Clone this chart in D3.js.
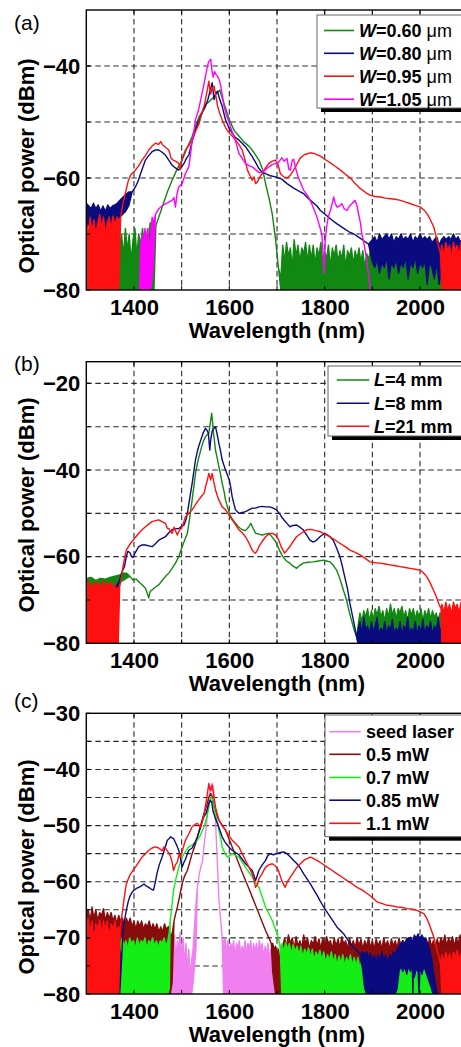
<!DOCTYPE html>
<html><head><meta charset="utf-8">
<script src="https://cdn.jsdelivr.net/npm/d3@7"></script>
<style>
html,body{margin:0;padding:0;background:#fff;}
svg{display:block;font-family:"Liberation Sans",Arial,Helvetica,sans-serif;}
</style></head><body>
<svg id="chart" width="461" height="1047"></svg>
<script>
// ---------- shared axis values ----------
const xDomain = [1300, 2100];
const xTickLabels = [1400, 1600, 1800, 2000];
const xGridValues = [1400, 1500, 1600, 1700, 1800, 1900, 2000];
const xTitle = "Wavelength (nm)";
const yTitle = "Optical power (dBm)";

// ---------- panel (a) ----------
const yDomainA = [-80, -30];
const yTicksA = [-40, -60, -80];
const yGridA = [-70, -60, -50, -40];
const legendA = ["=0.60 ", "=0.80 ", "=0.95 ", "=1.05 "];
// points: [wavelength, dBm] or [wavelength, low dBm, high dBm] for noisy bands
const greenA = [[1368,-80,-80],[1370,-80,-72],[1374,-80,-70],[1378,-80,-74],[1382,-80,-69],[1386,-80,-73],[1390,-80,-70],[1394,-80,-75],[1398,-80,-71],[1402,-80,-69],[1406,-80,-74],[1410,-80,-70],[1414,-80,-72],[1418,-80,-69],[1422,-80,-73],[1426,-80,-70],[1430,-80,-71],[1434,-80,-68],[1438,-80,-70],[1442,-80,-69],
[1446,-68.5],[1452,-67],[1460,-65],[1470,-62.5],[1480,-60.4],[1490,-58.5],[1501,-56.8],[1512,-54.5],[1522,-52.6],[1530,-50.5],[1537,-49],[1544,-48],[1550,-46.8],[1556,-46.5],[1562,-46],[1568,-45.5],[1574,-44.8],[1580,-44.3],[1586,-46],[1592,-47.5],[1600,-49.6],[1610,-51.5],[1621,-52.6],[1630,-53.5],[1642,-54.4],[1652,-55.5],[1662,-56.8],[1670,-58.5],[1676,-61],[1683,-63.5],[1690,-66.4],[1697,-71],[1703,-76],
[1708,-80,-78],[1712,-80,-72],[1716,-80,-75],[1720,-80,-71.5],[1724,-80,-74],[1728,-80,-72.5],[1732,-80,-76],[1736,-80,-71],[1740,-80,-74],[1744,-80,-72],[1748,-80,-75],[1752,-80,-72.5],[1756,-80,-73.5],[1760,-80,-71.5],[1764,-80,-75],[1768,-80,-72],[1772,-80,-74.5],[1776,-80,-72],[1780,-80,-75.5],[1784,-80,-72.5],[1788,-80,-74],[1792,-80,-71.5],[1796,-80,-75],[1800,-80,-73],[1804,-80,-74.5],[1808,-80,-72],[1812,-80,-76],[1816,-80,-72.5],[1820,-80,-74],[1824,-80,-72],[1828,-80,-75],[1832,-80,-73],[1836,-80,-74.5],[1840,-80,-72],[1844,-80,-76],[1848,-80,-73],[1852,-80,-74],[1856,-80,-72.5],[1860,-80,-75.5],[1864,-80,-73],[1868,-80,-74.5],[1872,-80,-72.5],[1876,-80,-75],[1880,-80,-73],[1884,-80,-76],[1888,-80,-73.5],[1892,-80,-74.5],[1896,-80,-73],[1900,-80,-75.5],[1904,-80,-73],[1908,-80,-74],[1912,-80,-72.5],[1916,-80,-76],[1920,-80,-73.5],[1924,-80,-75],[1928,-80,-73],[1932,-80,-74.5],[1936,-80,-72.5],[1940,-80,-76],[1944,-80,-73.5],[1948,-80,-75],[1952,-80,-73],[1956,-80,-74.5],[1960,-80,-73],[1964,-80,-76],[1968,-80,-73.5],[1972,-80,-75],[1976,-80,-73],[1980,-80,-74.5],[1984,-80,-72.5],[1988,-80,-76],[1992,-80,-73.5],[1996,-80,-75],[2000,-80,-73],[2004,-80,-74.5],[2008,-80,-73],[2012,-80,-75.5],[2016,-80,-73.5],[2020,-80,-75],[2024,-80,-73],[2028,-80,-74.5],[2032,-80,-73],[2036,-80,-75],[2040,-80,-73.5],[2044,-80,-75],[2048,-80,-74]];
const navyA = [[1300,-69,-64.5],[1305,-68,-65],[1310,-70,-65.5],[1315,-68,-64.5],[1320,-69.5,-65.5],[1325,-68,-64.8],[1330,-70,-66],[1335,-68.5,-65],[1340,-69,-66],[1345,-68,-64.8],[1350,-69.5,-65.5],[1355,-68,-65],[1360,-69,-64.8],[1365,-67.5,-64.5],[1370,-67,-64],[1376,-66.5,-63.5],[1382,-66,-63],[1389,-65,-62.5],
[1396,-62.5],[1403,-61.6],[1409,-60.5],[1414,-59.2],[1419,-58],[1424,-56.8],[1431,-56],[1438,-55.3],[1445,-55],[1452,-55],[1459,-55.4],[1466,-55.9],[1473,-56.8],[1480,-57.7],[1487,-58.2],[1494,-58.6],[1500,-58],[1505,-57.4],[1510,-56.5],[1515,-55.9],[1522,-53.5],[1529,-51.4],[1535,-50],[1540,-49],[1545,-48],[1550,-47.2],[1555,-46],[1558,-45],[1561,-44],[1564,-43],[1566,-44.5],[1568,-46],[1571,-45],[1575,-44.5],[1580,-46],[1585,-47.2],[1592,-49.6],[1599,-51],[1606,-52],[1613,-52.8],[1620,-53.2],[1627,-53.8],[1634,-54.4],[1641,-55.3],[1648,-56.2],[1655,-57.2],[1662,-58.3],[1669,-59],[1676,-59.2],[1686,-59.6],[1697,-59.8],[1710,-60.2],[1721,-61],[1735,-61.8],[1749,-62.5],[1756,-62.8],[1770,-64],[1784,-65],[1791,-65.8],[1805,-66.8],[1815,-67.5],[1826,-68.2],[1840,-69],[1851,-69.6],[1861,-70],[1872,-70.6],[1882,-71.2],[1892,-71.8],
[1900,-75,-71],[1905,-76,-70.5],[1910,-74.5,-71.5],[1915,-77,-70],[1920,-75,-71],[1925,-76,-70.5],[1930,-74,-70],[1935,-78,-71],[1940,-75,-70],[1945,-76,-71.5],[1950,-74.5,-70.5],[1955,-77,-71],[1960,-75,-70],[1965,-76,-71],[1970,-74,-70.5],[1975,-78,-71],[1980,-75,-70],[1985,-76,-71.5],[1990,-74,-70.5],[1995,-77,-71],[2000,-75,-70],[2005,-76,-71],[2010,-74.5,-70.5],[2015,-79,-71],[2020,-75,-70.5],[2025,-76,-71.5],[2030,-78,-71],[2035,-75,-70.5],[2040,-79,-72],[2045,-76,-71],[2050,-75,-70.5],[2055,-74,-71],[2060,-75,-70.5],[2065,-74.5,-71],[2070,-75,-70],[2075,-74,-71],[2080,-75,-70.5],[2085,-74.5,-71.5],[2090,-75,-70.5],[2095,-74,-71],[2100,-75,-71]];
const redA = [[1300,-80,-68],[1304,-80,-70],[1308,-80,-67],[1312,-80,-69.5],[1316,-80,-67.5],[1320,-80,-70],[1324,-80,-68],[1328,-80,-66.5],[1332,-80,-69],[1336,-80,-67],[1340,-80,-70],[1344,-80,-68],[1348,-80,-67],[1352,-80,-69],[1356,-80,-66.8],[1360,-80,-68.5],[1364,-80,-67],[1368,-80,-67.5],
[1372,-67],[1377,-64.5],[1382,-62.7],[1388,-60.5],[1393,-59.5],[1398,-59],[1403,-58.6],[1410,-57.8],[1417,-56.8],[1424,-56],[1431,-55],[1438,-54.3],[1445,-53.8],[1452,-54],[1456,-53.5],[1460,-54.1],[1466,-54.5],[1473,-55],[1478,-56.5],[1482,-56.8],[1487,-57],[1494,-57.4],[1497,-58.5],[1501,-56.5],[1508,-55],[1515,-54.2],[1522,-53.2],[1530,-51.5],[1537,-50.2],[1542,-48.5],[1547,-47.2],[1551,-45.5],[1554,-44.2],[1557,-42.7],[1559,-44],[1561,-45],[1564,-43.8],[1568,-43.6],[1571,-45],[1575,-47],[1580,-48.5],[1585,-49.6],[1592,-51],[1600,-52],[1606,-52.5],[1613,-53.2],[1620,-54],[1627,-55],[1632,-56.5],[1638,-58.6],[1643,-59.5],[1648,-60.4],[1652,-59.8],[1655,-61],[1659,-60.7],[1664,-59.8],[1669,-59.2],[1676,-58.2],[1683,-57.4],[1690,-57],[1697,-56.8],[1702,-57.5],[1707,-59.2],[1714,-59.8],[1721,-60],[1728,-59.5],[1735,-58.6],[1742,-57.5],[1749,-56.4],[1758,-55.8],[1770,-55.5],[1780,-55.7],[1791,-56.1],[1801,-56.7],[1812,-57.3],[1822,-57.9],[1833,-58.6],[1843,-59.3],[1854,-60],[1864,-61],[1875,-61.9],[1886,-62.6],[1896,-63.1],[1906,-63.3],[1917,-63.4],[1927,-63.6],[1938,-63.7],[1948,-63.8],[1959,-64],[1970,-64.3],[1980,-64.6],[1990,-64.9],[2001,-65.2],[2008,-65.7],[2015,-66.4],[2022,-67.5],[2029,-68.8],[2036,-71.2],[2043,-73.6],
[2046,-80,-72],[2050,-80,-74],[2054,-80,-71.5],[2058,-80,-73],[2062,-80,-72],[2066,-80,-74.5],[2070,-80,-71.5],[2074,-80,-73],[2078,-80,-72],[2082,-80,-74],[2086,-80,-71.5],[2090,-80,-73],[2094,-80,-72],[2098,-80,-73.5],[2100,-80,-72]];
const magentaA = [[1412,-80,-80],[1414,-80,-72],[1417,-80,-70],[1420,-80,-73],[1423,-80,-69],[1426,-80,-71],[1429,-80,-69],[1432,-80,-74],[1435,-80,-70],[1438,-78,-67],[1441,-75,-68],
[1445,-66.5],[1452,-65.5],[1459,-65],[1466,-64.6],[1473,-64.3],[1480,-64],[1484,-63.5],[1487,-65.2],[1490,-63],[1494,-61.6],[1501,-61],[1505,-60],[1508,-59.2],[1512,-58.5],[1515,-58],[1519,-55.5],[1522,-53.2],[1526,-51.5],[1529,-49.6],[1535,-48],[1540,-46],[1545,-44],[1550,-41.8],[1553,-40.5],[1556,-39.4],[1559,-39],[1561,-38.8],[1563,-40.5],[1566,-42],[1569,-41],[1572,-41.5],[1575,-41.8],[1579,-42.5],[1582,-43.6],[1586,-45.5],[1589,-47.2],[1594,-48.8],[1600,-50.2],[1605,-51.5],[1610,-52.6],[1615,-54],[1620,-55.6],[1627,-56.5],[1634,-57.4],[1641,-57.8],[1648,-58],[1655,-58.5],[1662,-59],[1669,-59],[1676,-58.5],[1683,-58],[1690,-57.6],[1697,-57.4],[1703,-57.2],[1710,-56.4],[1715,-57],[1721,-56.5],[1725,-58.5],[1728,-58.6],[1732,-56.8],[1735,-56.7],[1740,-58.5],[1745,-60],[1750,-61],[1756,-62.2],[1763,-63],[1770,-64],[1777,-65.5],[1784,-67],[1789,-68.5],[1794,-70],[1797,-74],[1799,-77],[1801,-71.2],[1805,-68.2],[1809,-66.5],[1812,-65.8],[1816,-64.5],[1819,-63.4],[1822,-64.5],[1826,-65.2],[1831,-65],[1836,-64.6],[1841,-65.5],[1847,-65.8],[1852,-65],[1857,-64.6],[1861,-64.2],[1864,-64],[1868,-65],[1871,-66.4],[1875,-68],[1878,-70],[1882,-71.5],[1885,-73],[1888,-74.5],[1890,-76],[1893,-78],[1895,-80]];

// ---------- panel (b) ----------
const yDomainB = [-80, -15];
const yTicksB = [-20, -40, -60, -80];
const yGridB = [-70, -60, -50, -40, -30, -20];
const legendB = ["=4 mm", "=8 mm", "=21 mm"];
const greenB = [[1300,-67.5,-65],[1310,-67,-64.8],[1320,-67.5,-65.5],[1330,-67,-65],[1340,-67.5,-65.2],[1350,-67,-64.8],[1360,-66.5,-64.5],[1370,-66,-64.2],[1377,-65.5,-63.8],[1384,-65,-63.8],
[1391,-64.5],[1398,-65.4],[1405,-65.2],[1410,-65.8],[1417,-66.5],[1424,-67.3],[1428,-68.5],[1431,-69.5],[1434,-68],[1438,-67.7],[1445,-67],[1452,-66.5],[1459,-65.5],[1466,-64.6],[1473,-63.8],[1480,-62.7],[1487,-61.5],[1494,-60],[1501,-57.7],[1507,-56],[1512,-54.6],[1517,-51],[1522,-46.9],[1526,-43.5],[1529,-40.8],[1534,-38],[1540,-35.4],[1545,-33.5],[1550,-32.3],[1554,-31.8],[1557,-31.5],[1559,-30],[1561,-28.5],[1563,-26.9],[1565,-29],[1566,-30.8],[1569,-33.5],[1571,-35.4],[1575,-37.5],[1578,-39.2],[1582,-41.2],[1585,-43.1],[1589,-45],[1592,-46.9],[1596,-48.5],[1600,-50],[1606,-51.3],[1613,-52.3],[1620,-53.2],[1627,-53.8],[1634,-54],[1641,-53.1],[1645,-52.3],[1650,-53.5],[1655,-54.6],[1662,-54.8],[1669,-55],[1676,-54.8],[1683,-54.6],[1690,-55.5],[1697,-56.5],[1705,-58.5],[1712,-60],[1720,-61],[1727,-61.5],[1734,-62.2],[1741,-62.7],[1748,-62],[1755,-61.5],[1765,-61.3],[1776,-61.2],[1787,-61],[1797,-60.8],[1804,-61],[1811,-61.2],[1818,-62],[1825,-63.1],[1830,-64.5],[1835,-66.2],[1840,-68],[1846,-70],[1851,-72.5],[1856,-74.6],[1862,-77],[1867,-78.5],
[1870,-80,-76],[1874,-80,-73],[1878,-80,-75],[1882,-80,-72.5],[1886,-80,-74],[1890,-80,-72],[1894,-80,-75],[1898,-80,-72.5],[1902,-80,-74.5],[1906,-80,-72],[1910,-80,-73.5],[1914,-80,-71.5],[1918,-80,-74],[1922,-80,-72.5],[1926,-80,-75],[1930,-80,-72],[1934,-80,-74],[1938,-80,-71],[1942,-80,-73.5],[1946,-80,-72],[1950,-80,-74.5],[1954,-80,-72],[1958,-80,-73],[1962,-80,-71.5],[1966,-80,-74],[1970,-80,-72.5],[1974,-80,-75],[1978,-80,-72],[1982,-80,-73.5],[1986,-80,-72],[1990,-80,-74.5],[1994,-80,-72.5],[1998,-80,-74],[2002,-80,-72],[2006,-80,-75],[2010,-80,-72.5],[2014,-80,-74],[2018,-80,-72],[2022,-80,-74.5],[2026,-80,-72.5],[2030,-80,-74],[2034,-80,-73],[2038,-80,-75],[2042,-80,-73],[2046,-80,-74.5],[2050,-80,-74]];
const navyB = [[1300,-69,-67],[1310,-70,-67.5],[1320,-69,-67],[1330,-70,-67.5],[1333,-80,-68],[1336,-70,-67],[1342,-78,-67.5],[1345,-70,-67],[1355,-69.5,-67],[1365,-68.5,-66.5],
[1370,-65.4],[1375,-63.5],[1380,-62.3],[1384,-60],[1387,-58.8],[1391,-59],[1395,-60],[1398,-60.2],[1403,-59],[1410,-57.7],[1417,-57.3],[1424,-57.3],[1431,-57.5],[1438,-57.7],[1445,-57],[1452,-56.2],[1459,-55.8],[1466,-55.4],[1473,-54.5],[1480,-53.8],[1487,-53.6],[1494,-53.5],[1500,-53],[1505,-52.7],[1509,-51.5],[1512,-50],[1517,-46.5],[1522,-43.1],[1526,-40],[1529,-37.7],[1534,-35.2],[1540,-33.1],[1545,-31.5],[1550,-30.4],[1553,-30.8],[1556,-31.5],[1559,-35.4],[1561,-33],[1564,-31],[1567,-30.5],[1571,-30],[1574,-31.5],[1578,-33.8],[1582,-35.8],[1585,-37.7],[1592,-40],[1600,-42.3],[1603,-44],[1606,-46.2],[1610,-48],[1613,-49.2],[1620,-50],[1627,-49.8],[1634,-49.6],[1641,-49.2],[1648,-48.8],[1655,-48.8],[1662,-48.5],[1669,-48.4],[1676,-48.5],[1685,-48.5],[1692,-48.8],[1699,-49.2],[1706,-50.2],[1712,-51.2],[1720,-52.2],[1727,-53.1],[1734,-52.8],[1741,-52.7],[1748,-53.2],[1755,-53.8],[1762,-55],[1769,-56.2],[1775,-56.6],[1779,-56.5],[1785,-56],[1790,-55.4],[1795,-55],[1800,-54.6],[1806,-55],[1812,-55.5],[1818,-56.2],[1825,-58],[1832,-60],[1837,-62.2],[1842,-64.6],[1848,-67.5],[1853,-70.8],[1858,-73.5],[1863,-76.2],[1867,-78.5],
[1870,-80,-77],[1874,-80,-75],[1878,-80,-78],[1882,-80,-74],[1886,-80,-77],[1890,-80,-76],[1894,-80,-78],[1898,-80,-75],[1902,-80,-77.5],[1906,-80,-76],[1910,-80,-74],[1914,-80,-78],[1918,-80,-76.5],[1922,-80,-77.5],[1926,-80,-75],[1930,-80,-78],[1934,-80,-76],[1938,-80,-77],[1942,-80,-74.5],[1946,-80,-78],[1950,-80,-76.5],[1954,-80,-77.5],[1958,-80,-75],[1962,-80,-78],[1966,-80,-76],[1970,-80,-77],[1974,-80,-74],[1978,-80,-78],[1982,-80,-76.5],[1986,-80,-77.5],[1990,-80,-75],[1994,-80,-78],[1998,-80,-76],[2002,-80,-77.5],[2006,-80,-74.5],[2010,-80,-78],[2014,-80,-76],[2018,-80,-77],[2022,-80,-75],[2026,-80,-78],[2030,-80,-76],[2034,-80,-77],[2038,-80,-74],[2042,-80,-77.5],[2046,-80,-76],[2050,-80,-77]];
const redB = [[1300,-80,-67],[1304,-80,-65.5],[1308,-80,-68],[1312,-80,-66],[1316,-80,-67.5],[1320,-80,-65.8],[1324,-80,-67],[1328,-80,-66],[1332,-80,-68],[1336,-80,-65.5],[1340,-80,-67.5],[1344,-80,-66],[1348,-80,-67],[1352,-80,-65.8],[1356,-80,-67.5],[1360,-80,-66.5],[1364,-80,-68],[1367,-80,-67],
[1370,-67],[1374,-64.5],[1377,-62.3],[1381,-60],[1384,-58.5],[1391,-57.2],[1398,-56.2],[1404,-55.4],[1410,-54.6],[1417,-53.8],[1424,-53.1],[1431,-52.5],[1438,-51.9],[1445,-51.7],[1452,-51.5],[1459,-51.9],[1466,-52.3],[1470,-53.5],[1473,-53.5],[1477,-54.2],[1480,-54.6],[1484,-53.2],[1487,-54],[1491,-55],[1494,-54.2],[1498,-53.5],[1501,-53.1],[1505,-51.8],[1508,-50.8],[1515,-50],[1522,-49.2],[1529,-48],[1536,-46.9],[1542,-46],[1547,-45.4],[1551,-43.5],[1554,-42.3],[1557,-40.8],[1559,-41.5],[1561,-42.3],[1564,-40.8],[1567,-42.5],[1571,-44.6],[1575,-46],[1578,-46.9],[1585,-48.5],[1592,-49.2],[1599,-50.3],[1606,-51.5],[1613,-52.6],[1620,-53.8],[1627,-54.5],[1634,-55.4],[1641,-56.8],[1648,-58.5],[1652,-59],[1655,-59.2],[1659,-58.5],[1662,-57.7],[1669,-56.5],[1676,-55.4],[1683,-54.8],[1690,-54.6],[1697,-55],[1703,-56],[1709,-57.8],[1716,-59.2],[1721,-58.5],[1727,-57.7],[1734,-56.5],[1741,-55.4],[1751,-54.6],[1762,-53.8],[1772,-53.7],[1781,-54],[1790,-54.2],[1800,-54.8],[1811,-55.4],[1821,-56.1],[1832,-56.9],[1843,-57.7],[1853,-58.5],[1864,-59],[1874,-59.6],[1885,-60.4],[1895,-61.2],[1906,-61.4],[1916,-61.5],[1927,-61.7],[1937,-61.9],[1948,-62.1],[1958,-62.3],[1969,-62.5],[1979,-62.7],[1990,-62.9],[2000,-63.1],[2007,-63.7],[2014,-64.6],[2021,-66],[2028,-67.7],[2034,-69.2],[2039,-70.8],[2044,-72],
[2046,-80,-71],[2050,-80,-73],[2054,-80,-70.5],[2058,-80,-72.5],[2062,-80,-71],[2066,-80,-73.5],[2070,-80,-70.5],[2074,-80,-72],[2078,-80,-71],[2082,-80,-73],[2086,-80,-70.5],[2090,-80,-72.5],[2094,-80,-71],[2098,-80,-72.5],[2100,-80,-71.5]];

// ---------- panel (c) ----------
const yDomainC = [-80, -30];
const yTicksC = [-30, -40, -50, -60, -70, -80];
const yGridC = [-75, -70, -65, -60, -55, -50, -45, -40, -35];
const legendC = ["seed laser", "0.5 mW", "0.7 mW", "0.85 mW", "1.1 mW"];
const seedC = [[1474,-80,-80],[1476,-80,-72],[1479,-80,-70],[1482,-80,-73],[1485,-80,-69.5],[1488,-80,-74],[1491,-80,-70.5],[1494,-80,-72],[1497,-80,-69],[1500,-80,-73.5],[1503,-80,-70],[1506,-80,-75],[1509,-80,-71],[1512,-80,-76],[1515,-80,-72],[1518,-80,-78],[1521,-80,-74],[1524,-78,-72],[1527,-75,-68],[1530,-72,-64],
[1533,-61],[1537,-58.6],[1540,-57.5],[1544,-56.2],[1547,-53.5],[1551,-50.8],[1554,-48],[1556,-45.5],[1559,-44],[1561,-43.1],[1564,-42.5],[1566,-43],[1568,-44.5],[1571,-49],[1573,-53],[1575,-56.8],[1578,-62.7],[1580,-65],[1582,-66.9],[1585,-69.9],
[1588,-80,-71],[1591,-80,-70],[1594,-80,-72.5],[1597,-80,-70.5],[1600,-80,-73],[1603,-80,-71],[1606,-80,-72],[1609,-80,-70.5],[1612,-80,-73.5],[1615,-80,-71],[1618,-80,-72],[1621,-80,-70.5],[1624,-80,-73],[1627,-80,-71.5],[1630,-80,-72.5],[1633,-80,-70.5],[1636,-80,-73],[1639,-80,-71],[1642,-80,-72],[1645,-80,-70.5],[1648,-80,-73.5],[1651,-80,-71],[1654,-80,-72.5],[1657,-80,-71],[1660,-80,-73],[1663,-80,-70.5],[1666,-80,-72],[1669,-80,-71],[1672,-80,-73.5],[1675,-80,-71.5],[1678,-80,-73],[1681,-80,-71],[1684,-80,-74],[1687,-80,-72],[1690,-80,-75],[1693,-80,-73],[1696,-80,-76],[1699,-80,-74],[1702,-80,-77],[1705,-80,-75],[1708,-80,-78],[1711,-80,-76],[1713,-80,-80]];
const brownC = [[1300,-80,-66],[1304,-80,-65],[1308,-80,-67],[1312,-80,-64.5],[1316,-80,-66.5],[1320,-80,-65],[1324,-80,-67],[1328,-80,-65.5],[1332,-80,-66],[1336,-80,-64.8],[1340,-80,-67],[1344,-80,-65.5],[1348,-80,-66.5],[1352,-80,-65.5],[1356,-80,-67],[1360,-80,-66],[1364,-80,-67.5],[1368,-80,-66],[1372,-80,-67],[1376,-80,-66.5],[1380,-80,-68],[1384,-80,-66.5],[1388,-80,-67.5],[1392,-80,-66.5],[1396,-80,-68],[1400,-80,-67],[1404,-80,-68.5],[1408,-80,-67],[1412,-80,-68],[1416,-80,-67],[1420,-80,-68.5],[1424,-80,-67.5],[1428,-80,-68],[1432,-80,-67],[1436,-80,-68.5],[1440,-80,-67.5],[1444,-80,-68.5],[1448,-80,-67.5],[1452,-80,-69],[1456,-80,-68],[1460,-80,-69],[1464,-80,-67.5],[1468,-80,-68.5],[1472,-80,-68],[1476,-80,-69.5],[1480,-78,-69.3],
[1484,-67],[1488,-65.5],[1491,-64.5],[1496,-62.5],[1501,-60.4],[1506,-59],[1512,-58],[1517,-56.5],[1522,-55],[1530,-53],[1537,-50.8],[1542,-49.3],[1547,-47.9],[1551,-46.8],[1554,-46],[1557,-45],[1561,-44.3],[1564,-44.8],[1568,-46.7],[1573,-48],[1578,-49],[1585,-50],[1592,-50.8],[1599,-52.3],[1606,-53.8],[1613,-55.3],[1620,-56.8],[1627,-58.3],[1634,-59.8],[1641,-61.2],[1648,-62.7],[1655,-64.2],[1662,-65.7],[1669,-67.2],[1676,-68.7],[1683,-70],[1688,-71],
[1691,-76,-71],[1694,-78,-72],[1697,-80,-71.5],[1700,-80,-73],[1703,-80,-72],[1706,-80,-74],[1709,-80,-72.5],[1712,-80,-71.5],[1716,-80,-70],[1720,-80,-71.5],[1724,-80,-69.5],[1728,-80,-71],[1732,-80,-70],[1736,-80,-72],[1740,-80,-69.8],[1744,-80,-71.5],[1748,-80,-70.5],[1752,-80,-71.8],[1756,-80,-69.5],[1760,-80,-71],[1764,-80,-70],[1768,-80,-72],[1772,-80,-70.5],[1776,-80,-71.2],[1780,-80,-69.8],[1784,-80,-71.5],[1788,-80,-70.2],[1792,-80,-72],[1796,-80,-70],[1800,-80,-71.5],[1804,-80,-69.8],[1808,-80,-71],[1812,-80,-70.5],[1816,-80,-72],[1820,-80,-70],[1824,-80,-71.5],[1828,-80,-70.2],[1832,-80,-71.8],[1836,-80,-69.8],[1840,-80,-71.2],[1844,-80,-70.5],[1848,-80,-72],[1852,-80,-70],[1856,-80,-71.5],[1860,-80,-70.5],[1864,-80,-71.8],[1868,-80,-70],[1872,-80,-71.5],[1876,-80,-70.2],[1880,-80,-72],[1884,-80,-70.5],[1888,-80,-71.5],[1892,-80,-70],[1896,-80,-71.8],[1900,-80,-70.5],[1904,-80,-72],[1908,-80,-70.2],[1912,-80,-71.5],[1916,-80,-70.5],[1920,-80,-72],[1924,-80,-70],[1928,-80,-71.5],[1932,-80,-70.5],[1936,-80,-72],[1940,-80,-70.2],[1944,-80,-71.5],[1948,-80,-70.5],[1952,-80,-71.8],[1956,-80,-70],[1960,-80,-71.5],[1964,-80,-70.5],[1968,-80,-72],[1972,-80,-70.2],[1976,-80,-71.5],[1980,-80,-70.5],[1984,-80,-71.8],[1988,-80,-70],[1992,-80,-71.5],[1996,-80,-70.5],[2000,-80,-72],[2004,-80,-70.2],[2008,-80,-71.5],[2012,-80,-70.5],[2016,-80,-71.8],[2020,-80,-70],[2024,-80,-71.5],[2028,-80,-70.5],[2032,-80,-72],[2036,-80,-70.2],[2040,-80,-71.5],[2044,-80,-70],[2048,-80,-71],[2052,-80,-69.5],[2056,-80,-71.5],[2060,-80,-70],[2064,-80,-71],[2068,-80,-69.8],[2072,-80,-71.5],[2076,-80,-70],[2080,-80,-71],[2084,-80,-69.5],[2088,-80,-71.5],[2092,-80,-70],[2096,-80,-71],[2100,-80,-70]];
const greenC = [[1368,-80,-80],[1371,-80,-71],[1375,-80,-70],[1379,-80,-71.5],[1383,-80,-70.5],[1387,-80,-72],[1391,-80,-70],[1395,-80,-71],[1399,-80,-70.5],[1403,-80,-72],[1407,-80,-70],[1411,-80,-71.5],[1415,-80,-70.5],[1419,-80,-71],[1423,-80,-70],[1427,-80,-72],[1431,-80,-70.5],[1435,-80,-71],[1439,-80,-70],[1443,-80,-71.5],[1447,-80,-70.5],[1451,-80,-71.8],[1455,-80,-70.5],[1459,-80,-71],[1463,-80,-70],[1467,-80,-71.5],[1471,-80,-70.5],[1474,-79,-69],
[1476,-66.9],[1480,-64],[1483,-61.5],[1488,-59.5],[1494,-57.4],[1501,-55.6],[1508,-54.6],[1515,-53.8],[1522,-53.5],[1528,-53],[1533,-52.6],[1539,-51.8],[1544,-50.8],[1548,-50],[1551,-49],[1554,-48],[1557,-46.7],[1559,-45.8],[1561,-44.9],[1564,-45.2],[1567,-46.5],[1571,-47.9],[1575,-49.5],[1578,-50.8],[1582,-52.3],[1585,-53.8],[1590,-54.8],[1596,-55.6],[1601,-55.3],[1606,-55],[1613,-55.3],[1620,-55.6],[1627,-56.5],[1634,-57.4],[1641,-58.3],[1648,-59.2],[1655,-60.1],[1662,-61],[1669,-62.7],[1676,-64.5],[1683,-65.7],[1690,-66.9],[1697,-68.5],[1703,-70],[1707,-72],
[1710,-80,-71],[1714,-80,-72.5],[1718,-80,-70.8],[1722,-80,-72],[1726,-80,-71],[1730,-80,-73],[1734,-80,-71.2],[1738,-80,-72.5],[1742,-80,-71.5],[1746,-80,-73],[1750,-80,-71.5],[1754,-80,-73.5],[1758,-80,-72],[1762,-80,-73],[1766,-80,-71.8],[1770,-80,-73.5],[1774,-80,-72],[1778,-80,-74],[1782,-80,-72.5],[1786,-80,-73.5],[1790,-80,-72.2],[1794,-80,-74],[1798,-80,-72.5],[1802,-80,-74.5],[1806,-80,-73],[1810,-80,-74],[1814,-80,-72.5],[1818,-80,-74.5],[1822,-80,-73],[1826,-80,-75],[1830,-80,-73.2],[1834,-80,-74.5],[1838,-80,-73],[1842,-80,-75],[1846,-80,-73.5],[1850,-80,-74.5],[1854,-80,-73],[1858,-80,-75],[1862,-80,-73.5],[1866,-80,-75],[1870,-80,-73.5],[1874,-80,-75.5],[1878,-80,-74],[1882,-80,-75],[1886,-80,-73.5],[1890,-80,-75.5],[1894,-80,-74],[1898,-80,-75],[1902,-80,-74],[1906,-80,-76],[1910,-80,-74.5],[1914,-80,-75.5],[1918,-80,-74],[1922,-80,-76],[1926,-80,-74.5],[1930,-80,-75.5],[1934,-80,-74],[1938,-80,-75],[1942,-80,-73.5],[1946,-80,-74.5],[1950,-80,-73],[1954,-80,-74],[1958,-80,-72.8],[1962,-80,-73.5],[1966,-80,-72.5],[1970,-80,-73.5],[1974,-80,-72.8],[1978,-80,-73.2],[1982,-80,-72.5],[1986,-80,-73.5],[1990,-80,-72.8],[1994,-80,-73],[1998,-80,-72.5],[2002,-80,-73.5],[2006,-80,-73],[2010,-80,-74],[2014,-80,-75],[2018,-80,-77],[2022,-80,-79],[2024,-80,-80]];
const navyC = [[1300,-70,-68],[1310,-71,-68.5],[1320,-70,-68],[1330,-71,-68.5],[1338,-70,-68],[1340,-80,-68],[1342,-70,-68.5],[1350,-71,-68],[1360,-70,-68.5],[1366,-80,-69],[1370,-80,-72],
[1374,-74],[1377,-68.7],[1381,-66.5],[1384,-65.1],[1388,-63.5],[1391,-62.7],[1395,-62],[1400,-61.5],[1405,-61.2],[1410,-61],[1415,-60.8],[1421,-60.4],[1426,-60.8],[1431,-61],[1436,-61.3],[1441,-61.5],[1445,-60],[1448,-58.6],[1453,-57],[1459,-55.6],[1465,-54],[1470,-52.6],[1474,-52.3],[1477,-52],[1480,-52.2],[1483,-52.3],[1488,-53.2],[1494,-54.4],[1498,-56],[1501,-57.4],[1505,-56.5],[1508,-56],[1512,-55],[1515,-54.4],[1522,-54],[1528,-53],[1533,-52],[1539,-50.5],[1544,-49],[1548,-48.2],[1551,-47.9],[1554,-47],[1557,-46],[1560,-45.5],[1563,-45.8],[1566,-47.5],[1568,-48],[1571,-48.8],[1575,-49.6],[1580,-50.8],[1585,-52],[1590,-52.8],[1596,-53.5],[1601,-54],[1606,-54.4],[1613,-54.8],[1620,-55.2],[1627,-56],[1634,-56.8],[1641,-57.4],[1648,-58],[1652,-59],[1655,-59.8],[1659,-58.8],[1662,-58],[1669,-57],[1676,-56.2],[1681,-55.3],[1686,-55],[1692,-55.2],[1700,-55],[1707,-54.8],[1714,-54.7],[1721,-55],[1728,-55.6],[1735,-56.2],[1742,-56.8],[1749,-57.6],[1756,-58.6],[1763,-59.5],[1770,-60.4],[1777,-61.4],[1784,-62.4],[1791,-63.5],[1798,-64.5],[1805,-65.4],[1812,-66.3],[1819,-67.2],[1826,-68.1],[1833,-68.7],[1840,-69.3],[1847,-70.2],[1854,-71.1],[1861,-71.7],[1868,-72.3],[1875,-73],
[1880,-76,-72.5],[1884,-79,-73],[1888,-80,-72.5],[1892,-80,-73.5],[1896,-80,-72.8],[1900,-80,-74],[1904,-80,-73],[1908,-80,-74.5],[1912,-80,-73],[1916,-80,-74],[1920,-80,-72.5],[1924,-80,-74],[1928,-80,-73],[1932,-80,-74.5],[1936,-80,-73],[1940,-80,-73.5],[1944,-80,-72.5],[1948,-80,-73],[1952,-79,-72],[1956,-76,-71.5],[1960,-75,-71],[1964,-76,-70.5],[1968,-75,-71],[1972,-76.5,-70.2],[1976,-75,-70],[1980,-76,-69.9],[1984,-75,-70.5],[1985,-80,-70.5],[1986,-75,-70.5],[1988,-77,-69.5],[1992,-75.5,-70],[1996,-76,-69.3],[1998,-80,-69.8],[2000,-75,-70],[2004,-76.5,-69.5],[2008,-75,-70.2],[2012,-76,-70],[2016,-77,-71],[2020,-78,-72],[2024,-79,-73.5],[2028,-80,-76],[2032,-80,-78],[2036,-80,-80]];
const redC = [[1300,-80,-68],[1304,-80,-66.5],[1308,-80,-69],[1312,-80,-67],[1316,-80,-70],[1320,-80,-67.5],[1324,-80,-68.5],[1328,-80,-66.8],[1332,-80,-69.5],[1336,-80,-67],[1340,-80,-68.5],[1344,-80,-67],[1348,-80,-69.5],[1352,-80,-67.5],[1356,-80,-68.5],[1360,-80,-67],[1364,-80,-69],[1368,-80,-68],
[1371,-68.5],[1374,-66.5],[1377,-64.5],[1381,-62],[1384,-60.4],[1388,-59.5],[1393,-58.6],[1398,-58],[1403,-57.4],[1410,-56.5],[1417,-55.6],[1424,-55],[1431,-54.4],[1438,-54],[1445,-53.8],[1452,-54],[1459,-54.5],[1463,-53.8],[1466,-54],[1470,-54.5],[1474,-55],[1477,-55.6],[1480,-56.5],[1483,-58],[1487,-57],[1491,-56.5],[1495,-55],[1498,-55.6],[1503,-54],[1508,-52.6],[1515,-51.5],[1522,-50.2],[1528,-49.8],[1533,-49.6],[1537,-50],[1540,-50.3],[1544,-49],[1547,-47.9],[1551,-46],[1554,-44.3],[1557,-42.5],[1559,-43.5],[1561,-43.8],[1564,-42.8],[1567,-44.5],[1571,-46.7],[1575,-48],[1578,-49],[1585,-50],[1592,-50.8],[1599,-51.8],[1606,-52.6],[1613,-53.2],[1620,-53.8],[1627,-55],[1634,-56.2],[1641,-57.4],[1648,-58.6],[1652,-59.8],[1655,-61],[1659,-60.5],[1662,-59.5],[1669,-58.5],[1676,-57.4],[1683,-57],[1690,-56.8],[1697,-57.2],[1703,-58],[1710,-59.8],[1717,-61],[1722,-60],[1728,-59.2],[1735,-58.3],[1742,-57.4],[1749,-56.8],[1756,-56.2],[1763,-55.9],[1770,-55.6],[1777,-55.9],[1784,-56.2],[1795,-56.8],[1805,-57.4],[1816,-58],[1826,-58.6],[1837,-59.2],[1847,-59.8],[1858,-60.4],[1868,-61],[1879,-61.5],[1889,-62.1],[1900,-62.8],[1910,-63.6],[1921,-63.9],[1931,-64.2],[1942,-64.3],[1952,-64.5],[1963,-64.6],[1973,-64.8],[1984,-64.9],[1994,-65.1],[2001,-65.4],[2008,-65.7],[2014,-66.5],[2019,-67.5],[2024,-68.7],[2029,-69.9],[2033,-71.2],[2036,-72.3],[2040,-73.5],[2043,-74.6],
[2046,-80,-73],[2050,-80,-74.5],[2054,-80,-72.5],[2058,-80,-74],[2062,-80,-72.8],[2066,-80,-74.5],[2070,-80,-72.5],[2074,-80,-73.5],[2078,-80,-72.2],[2082,-80,-74],[2086,-80,-72.8],[2090,-80,-74.5],[2094,-80,-72.5],[2098,-80,-73.5],[2100,-80,-73]];

// ---------- drawing ----------
const svg = d3.select("#chart");
const defs = svg.append("defs");
const X0 = 86.3, X1 = 467.7;
const x = d3.scaleLinear().domain(xDomain).range([X0, X1]);
const FONT = '"Liberation Sans", Arial, Helvetica, sans-serif';

const panels = [
  {name:"a", label:"(a)", top:10, bottom:290, yDomain:yDomainA, yTicks:yTicksA, yGrid:yGridA, titleY:166, labelY:29.5,
   series:[{d:greenA,c:"#118811"},{d:navyA,c:"#0b0b80"},{d:redA,c:"#ff1010"},{d:magentaA,c:"#ff00ff"}],
   legend:{x:317, y:15, w:160, h:93, rows:[30.5,53.3,76.2,99.2], lx0:324, lx1:354, tx:359,
     items:legendA.map((t,i)=>({pre:"W", text:t, unit:"\u03bcm", c:["#118811","#0b0b80","#ff1010","#ff00ff"][i]}))}},
  {name:"b", label:"(b)", top:361.7, bottom:643.3, yDomain:yDomainB, yTicks:yTicksB, yGrid:yGridB, titleY:505, labelY:371,
   series:[{d:greenB,c:"#118811"},{d:navyB,c:"#0b0b80"},{d:redB,c:"#ff1010"}],
   legend:{x:328, y:366, w:150, h:70, rows:[380,403.3,426.3], lx0:336.7, lx1:369.3, tx:374,
     items:legendB.map((t,i)=>({pre:"L", text:t, unit:"", c:["#118811","#0b0b80","#ff1010"][i]}))}},
  {name:"c", label:"(c)", top:713.3, bottom:994, yDomain:yDomainC, yTicks:yTicksC, yGrid:yGridC, titleY:867, labelY:708,
   series:[{d:seedC,c:"#f07ff0"},{d:brownC,c:"#880c0c"},{d:greenC,c:"#14ee14"},{d:navyC,c:"#0b0b80"},{d:redC,c:"#ff1010"}],
   legend:{x:325, y:715, w:150, h:121.7, rows:[731.7,754.3,777.5,800.2,823.3], lx0:329.3, lx1:360.7, tx:366,
     items:legendC.map((t,i)=>({pre:"", text:t, unit:"", c:["#f07ff0","#880c0c","#14ee14","#0b0b80","#ff1010"][i]}))}}
];

panels.forEach(p => {
  const y = d3.scaleLinear().domain(p.yDomain).range([p.bottom, p.top]);
  const g = svg.append("g");
  const clipId = "clip-" + p.name;
  defs.append("clipPath").attr("id", clipId).append("rect")
    .attr("x", X0).attr("y", p.top).attr("width", X1 - X0).attr("height", p.bottom - p.top);

  // grid
  const grid = g.append("g").attr("stroke", "#2a2a2a").attr("stroke-width", 1.1).attr("stroke-dasharray", "5.5,3.5");
  grid.selectAll("line.vx").data(xGridValues).join("line")
    .attr("x1", d => x(d)).attr("x2", d => x(d)).attr("y1", p.top).attr("y2", p.bottom);
  grid.selectAll("line.hy").data(p.yGrid).join("line")
    .attr("x1", X0).attr("x2", X1).attr("y1", d => y(d)).attr("y2", d => y(d));

  // series
  const area = d3.area()
    .x(d => x(d[0]))
    .y0(d => y(d[1]))
    .y1(d => y(d.length > 2 ? d[2] : d[1]));
  const sg = g.append("g").attr("clip-path", `url(#${clipId})`);
  p.series.forEach(s => {
    sg.append("path").datum(s.d).attr("d", area)
      .attr("fill", s.c).attr("stroke", s.c).attr("stroke-width", 1.4)
      .attr("stroke-linejoin", "round");
  });

  // frame
  g.append("rect").attr("x", X0).attr("y", p.top).attr("width", X1 - X0).attr("height", p.bottom - p.top)
    .attr("fill", "none").attr("stroke", "#000").attr("stroke-width", 1.4);

  // axes
  const ya = g.append("g").attr("transform", `translate(${X0},0)`)
    .call(d3.axisLeft(y).tickValues(p.yTicks).tickSize(0).tickPadding(6).tickFormat(d3.format("d")));
  ya.select(".domain").remove();
  ya.selectAll("text").attr("font-family", FONT).attr("font-size", 22).attr("font-weight", "bold").attr("fill", "#000");
  const xa = g.append("g").attr("transform", `translate(0,${p.bottom})`)
    .call(d3.axisBottom(x).tickValues(xTickLabels).tickSize(0).tickPadding(9).tickFormat(d3.format("d")));
  xa.select(".domain").remove();
  xa.selectAll("text").attr("font-family", FONT).attr("font-size", 22).attr("font-weight", "bold").attr("fill", "#000");

  // inward ticks
  const tk = g.append("g").attr("stroke", "#000").attr("stroke-width", 1);
  xGridValues.forEach(v => {
    tk.append("line").attr("x1", x(v)).attr("x2", x(v)).attr("y1", p.bottom).attr("y2", p.bottom - 4);
    tk.append("line").attr("x1", x(v)).attr("x2", x(v)).attr("y1", p.top).attr("y2", p.top + 4);
  });
  p.yGrid.concat(p.yTicks).forEach(v => {
    tk.append("line").attr("x1", X0).attr("x2", X0 + 4).attr("y1", y(v)).attr("y2", y(v));
  });

  // titles
  g.append("text").attr("x", (X0 + X1) / 2).attr("y", p.bottom + 48).attr("text-anchor", "middle")
    .attr("font-family", FONT).attr("font-size", 22).attr("font-weight", "bold").text(xTitle);
  g.append("text").attr("transform", `translate(34,${p.titleY}) rotate(-90)`).attr("text-anchor", "middle")
    .attr("font-family", FONT).attr("font-size", 22).attr("font-weight", "bold").text(yTitle);
  g.append("text").attr("x", 14).attr("y", p.labelY).attr("font-family", FONT).attr("font-size", 21).text(p.label);

  // legend
  const L = p.legend;
  const lg = g.append("g");
  lg.append("rect").attr("x", L.x + 4).attr("y", L.y + 4).attr("width", L.w).attr("height", L.h).attr("fill", "#000");
  lg.append("rect").attr("x", L.x).attr("y", L.y).attr("width", L.w).attr("height", L.h)
    .attr("fill", "#fff").attr("stroke", "#666").attr("stroke-width", 1);
  L.items.forEach((it, i) => {
    const ry = L.rows[i];
    lg.append("line").attr("x1", L.lx0).attr("x2", L.lx1).attr("y1", ry).attr("y2", ry)
      .attr("stroke", it.c).attr("stroke-width", 1.6);
    const t = lg.append("text").attr("x", L.tx).attr("y", ry).attr("dy", "0.36em")
      .attr("font-family", FONT).attr("font-size", 18).attr("font-weight", "bold").attr("fill", "#000");
    if (it.pre) t.append("tspan").attr("font-style", "italic").text(it.pre);
    t.append("tspan").text(it.text);
    if (it.unit) t.append("tspan").attr("font-weight", "normal").text(it.unit);
  });
});
</script>
</body></html>
